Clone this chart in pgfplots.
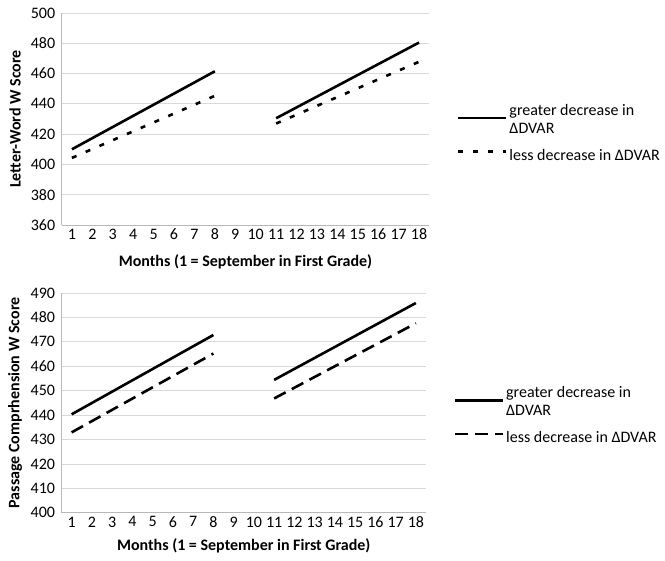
\documentclass[border=0pt]{standalone}
\usepackage{fontspec}
\setmainfont{Carlito}
\usepackage{pgfplots}
\pgfplotsset{compat=1.18}
\pgfplotsset{
  mystyle/.style={
    scale only axis,
    xmin=0.5, xmax=18.5,
    xtick={1,...,18},
    axis x line*=bottom, axis y line*=left,
    axis line style={draw=black!28, line width=0.75bp, -},
    ymajorgrids,
    grid style={draw=black!15, line width=0.75bp},
    major tick length=0pt,
    tick label style={font=\fontsize{16bp}{18bp}\selectfont},
    yticklabel style={xshift=-3bp},
    xticklabel style={yshift=-0.5bp},
    /pgf/number format/assume math mode=true,
    label style={font=\bfseries\fontsize{16bp}{18bp}\selectfont},
    unbounded coords=jump,
    legend cell align=left,
    legend style={draw=none, fill=none, anchor=north west, inner sep=0pt,
      row sep=6bp, nodes={text depth=}, font=\fontsize{16bp}{18bp}\selectfont},
    legend image code/.code={\draw[##1] (0bp,0.3em) -- (48bp,0.3em);},
  },
  solidl/.style={black, line width=2.6bp, line cap=butt},
}
\begin{document}
\begin{tikzpicture}
\useasboundingbox (0bp,0bp) rectangle (665bp,561bp);
% Top panel
\begin{axis}[mystyle,
  at={(61.7bp,336bp)}, anchor=south west,
  width=367.6bp, height=212bp,
  ymin=360, ymax=500, ytick={360,380,...,500},
  xlabel={Months (1 = September in First Grade)},
  ylabel={Letter-Word W Score},
  xlabel style={at={(axis description cs:0.5,-0.172)}, anchor=center},
  ylabel style={at={(axis description cs:-0.127,0.5)}, anchor=center},
  legend style={at={(axis description cs:1.0745,0.585)}},
]
\addplot[solidl] coordinates {(1,410) (8,461.5) (9.5,nan) (11,430.5) (18,480.5)};
\addlegendentry{\begin{tabular}[t]{@{}l@{}}greater decrease in\\ΔDVAR\end{tabular}}
\addplot[black, line width=2.6bp, dash pattern=on 5bp off 10bp] coordinates {(1,404.3) (8,445.3) (9.5,nan) (11,427) (18,467.8)};
\addlegendentry{less decrease in ΔDVAR}
\end{axis}
% Bottom panel
\begin{axis}[mystyle,
  at={(61.5bp,48.3bp)}, anchor=south west,
  width=364.5bp, height=219.7bp,
  ymin=400, ymax=490, ytick={400,410,...,490},
  xlabel={Months (1 = September in First Grade)},
  ylabel={Passage Comprhension W Score},
  xlabel style={at={(axis description cs:0.5,-0.152)}, anchor=center},
  ylabel style={at={(axis description cs:-0.127,0.5)}, anchor=center},
  legend style={at={(axis description cs:1.075,0.59)}},
]
\addplot[solidl] coordinates {(1,440.3) (8,472.8) (9.5,nan) (11,454.4) (18,485.9)};
\addlegendentry{\begin{tabular}[t]{@{}l@{}}greater decrease in\\ΔDVAR\end{tabular}}
\addplot[black, line width=2.6bp, dash pattern=on 13bp off 7bp] coordinates {(1,432.9) (8,465.2) (9.5,nan) (11,446.8) (18,477.6)};
\addlegendentry{less decrease in ΔDVAR}
\end{axis}
\end{tikzpicture}
\end{document}
